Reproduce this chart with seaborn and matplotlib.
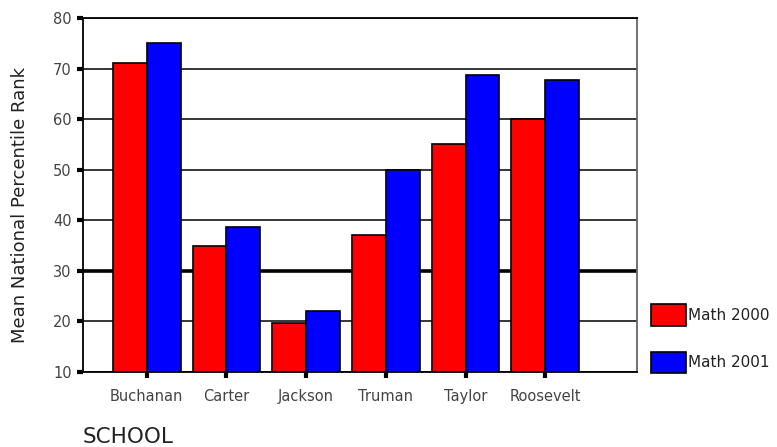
import matplotlib
matplotlib.use("Agg")
import matplotlib.pyplot as plt
import seaborn as sns
import pandas as pd

schools = ["Buchanan", "Carter", "Jackson", "Truman", "Taylor", "Roosevelt"]
math_2000 = [71, 35, 19.7, 37, 55, 60]
math_2001 = [75, 38.7, 22, 50, 68.8, 67.7]
series = ["Math 2000", "Math 2001"]
y_ticks = [10, 20, 30, 40, 50, 60, 70, 80]

df = pd.DataFrame({
    "school": schools * 2,
    "rank": math_2000 + math_2001,
    "year": [series[0]] * len(schools) + [series[1]] * len(schools),
})

sns.set_style("white")
plt.rcParams["font.family"] = ["DejaVu Sans"]

fig = plt.figure(figsize=(7.77, 4.47), dpi=100)
ax = fig.add_axes([0.1068, 0.1678, 0.713, 0.792])

# horizontal reference lines, with the 30 line drawn heavier
for t in y_ticks:
    ax.axhline(t, color="black", lw=2.6 if t == 30 else 1.1, zorder=0)

sns.barplot(data=df, x="school", y="rank", hue="year",
            palette={"Math 2000": "#ff0000", "Math 2001": "#0000ff"},
            width=0.85, edgecolor="black", linewidth=1.2,
            saturation=1, ax=ax, legend=False, zorder=2)

ax.set_ylim(10, 80)
ax.set_xlim(-0.8, 6.15)
ax.set_yticks(y_ticks)
ax.tick_params(axis="y", length=4, width=3, color="black", pad=4,
               labelsize=10.5, labelcolor="#444444", left=True)
ax.tick_params(axis="x", length=4, width=3, color="black", pad=8,
               labelsize=10.5, labelcolor="#444444", bottom=True)

for side in ["left", "bottom", "top"]:
    ax.spines[side].set_color("black")
    ax.spines[side].set_linewidth(1.3)
ax.spines["right"].set_color("#666666")
ax.spines["right"].set_linewidth(1.3)

ax.set_ylabel("")
ax.set_xlabel("")
fig.text(20 / 777, 1 - 205 / 447, "Mean National Percentile Rank", rotation=90,
         fontsize=13, color="#222222", ha="center", va="center")
fig.text(83 / 777, 1 - 437 / 447, "SCHOOL", fontsize=15.5, color="#222222",
         ha="left", va="center")

# legend outside the plotting area on the right
handles = [plt.Rectangle((0, 0), 1, 1, facecolor=c, edgecolor="black", lw=1.2)
           for c in ["#ff0000", "#0000ff"]]
fig.legend(handles, series, loc="lower left", bbox_to_anchor=(0.8198, 0.1343),
           frameon=False, fontsize=11, handlelength=2.3, handleheight=1.77,
           handletextpad=0.15, labelspacing=1.72, labelcolor="#222222")

fig.savefig("out.png", dpi=100)
